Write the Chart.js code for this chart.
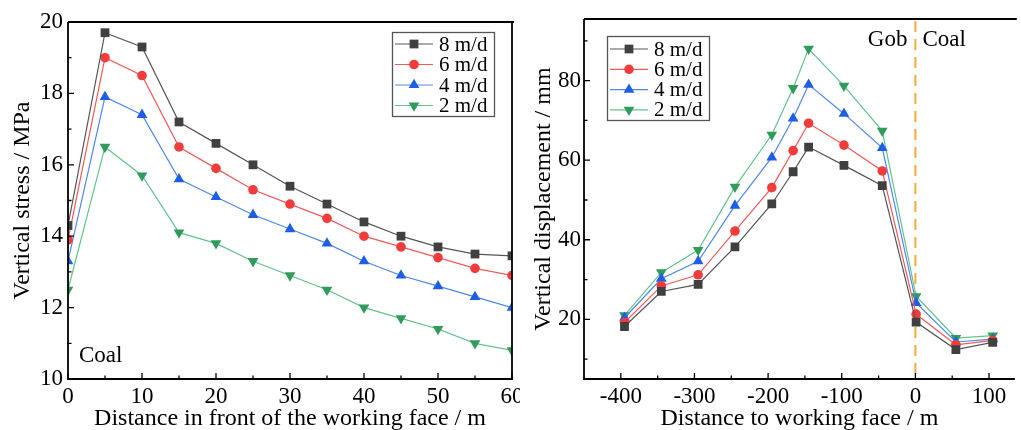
<!DOCTYPE html>
<html>
<head>
<meta charset="utf-8">
<script src="https://cdn.jsdelivr.net/npm/chart.js@4/dist/chart.umd.min.js"></script>
<style>
  body { margin: 0; background: #fff; width: 1021px; height: 430px; overflow: hidden; }
  #left { position: absolute; left: 0; top: 0; }
  #right { position: absolute; left: 520px; top: 0; }
</style>
</head>
<body>
<canvas id="left" width="520" height="430"></canvas>
<canvas id="right" width="501" height="430"></canvas>
<script>
// left chart: vertical stress ahead of the face
const stressX = [0, 5, 10, 15, 20, 25, 30, 35, 40, 45, 50, 55, 60];
const stress8 = [14.3, 19.7, 19.3, 17.2, 16.6, 16.0, 15.4, 14.9, 14.4, 14.0, 13.7, 13.5, 13.45];
const stress6 = [13.9, 19.0, 18.5, 16.5, 15.9, 15.3, 14.9, 14.5, 14.0, 13.7, 13.4, 13.1, 12.9];
const stress4 = [13.3, 17.9, 17.4, 15.6, 15.1, 14.6, 14.2, 13.8, 13.3, 12.9, 12.6, 12.3, 12.0];
const stress2 = [12.5, 16.5, 15.7, 14.1, 13.8, 13.3, 12.9, 12.5, 12.0, 11.7, 11.4, 11.0, 10.8];

// right chart: vertical displacement
const dispX = [-395, -345, -295, -245, -195, -166, -145, -97, -45, 1, 55, 105];
const disp8 = [18.2, 27.0, 28.8, 38.2, 49.0, 57.1, 63.3, 58.7, 53.6, 19.3, 12.4, 14.2];
const disp6 = [19.2, 28.4, 31.2, 42.2, 53.1, 62.4, 69.3, 63.8, 57.3, 21.3, 13.6, 14.7];
const disp4 = [20.4, 30.2, 34.6, 48.6, 60.7, 70.5, 79.0, 71.7, 63.1, 24.1, 14.3, 15.0];
const disp2 = [21.0, 31.8, 37.4, 53.3, 66.4, 78.1, 88.0, 78.7, 67.4, 25.8, 15.3, 15.9];

const seriesLabels = ['8 m/d', '6 m/d', '4 m/d', '2 m/d'];
const stressTicks = [10, 12, 14, 16, 18, 20];
const stressXTicks = [0, 10, 20, 30, 40, 50, 60];
const dispTicks = [20, 40, 60, 80];
const dispXTicks = [-400, -300, -200, -100, 0, 100];

const FONT = "'Liberation Serif', 'Times New Roman', serif";

const styles = [
  { mark: '#404040', line: '#555555', shape: 'rect', r: 6.2, rot: 0 },
  { mark: '#f23c3c', line: '#f25a5a', shape: 'circle', r: 4.8, rot: 0 },
  { mark: '#1e5ee6', line: '#4f86f0', shape: 'triangle', r: 6.2, rot: 0 },
  { mark: '#2f9c5c', line: '#62c48c', shape: 'triangle', r: 6.2, rot: 180 }
];

function makeSets(xs, lists) {
  return lists.map((ys, i) => ({
    label: seriesLabels[i],
    data: xs.map((x, j) => ({ x: x, y: ys[j] })),
    borderColor: styles[i].line,
    borderWidth: 1.2,
    backgroundColor: styles[i].mark,
    pointBackgroundColor: styles[i].mark,
    pointBorderColor: styles[i].mark,
    pointBorderWidth: 0,
    pointStyle: styles[i].shape,
    pointRadius: styles[i].r,
    pointRotation: styles[i].rot,
    tension: 0
  }));
}

function minorOf(vals, min, max) {
  const out = [];
  for (let i = 0; i < vals.length - 1; i++) out.push((vals[i] + vals[i + 1]) / 2);
  if (vals.length > 1) {
    const step = vals[1] - vals[0];
    out.push(vals[0] - step / 2, vals[vals.length - 1] + step / 2);
  }
  return out.filter(v => v > min && v < max);
}

// frame, inward ticks, legend box and notes
const decor = {
  id: 'decor',
  beforeDatasetsDraw(chart, args, o) {
    if (o.dashAt === undefined) return;
    const ctx = chart.ctx, a = chart.chartArea;
    const px = chart.scales.x.getPixelForValue(o.dashAt);
    ctx.save();
    ctx.strokeStyle = '#f9a83a';
    ctx.lineWidth = 2;
    ctx.setLineDash([11, 7]);
    ctx.beginPath();
    ctx.moveTo(px, a.top + 2);
    ctx.lineTo(px, a.bottom);
    ctx.stroke();
    ctx.restore();
  },
  afterDraw(chart, args, o) {
    const ctx = chart.ctx, a = chart.chartArea;
    const xs = chart.scales.x, ys = chart.scales.y;
    ctx.save();
    ctx.strokeStyle = '#000';
    ctx.lineWidth = 1.8;
    ctx.beginPath();
    ctx.moveTo(a.left, a.top);
    ctx.lineTo(a.left, a.bottom);
    ctx.lineTo(a.right, a.bottom);
    if (o.box) {
      ctx.lineTo(a.right, a.top);
    }
    ctx.moveTo(a.left, a.top);
    ctx.lineTo(a.right + 2, a.top);
    ctx.stroke();

    // inward ticks
    ctx.lineWidth = 1.3;
    const xMaj = xs.ticks.map(t => t.value);
    const yMaj = ys.ticks.map(t => t.value);
    ctx.beginPath();
    xMaj.forEach(v => { const p = xs.getPixelForValue(v); ctx.moveTo(p, a.bottom); ctx.lineTo(p, a.bottom - 6); });
    minorOf(xMaj, xs.min, xs.max).forEach(v => { const p = xs.getPixelForValue(v); ctx.moveTo(p, a.bottom); ctx.lineTo(p, a.bottom - 3.5); });
    yMaj.forEach(v => { const p = ys.getPixelForValue(v); ctx.moveTo(a.left, p); ctx.lineTo(a.left + 6, p); });
    minorOf(yMaj, ys.min, ys.max).forEach(v => { const p = ys.getPixelForValue(v); ctx.moveTo(a.left, p); ctx.lineTo(a.left + 3.5, p); });
    ctx.stroke();

    // legend
    const L = o.legend;
    ctx.fillStyle = '#fff';
    ctx.fillRect(L.x, L.y, L.w, L.h);
    ctx.strokeStyle = '#555';
    ctx.lineWidth = 1.3;
    ctx.strokeRect(L.x + 0.5, L.y + 0.5, L.w, L.h);
    ctx.font = '21px ' + FONT;
    ctx.textBaseline = 'middle';
    chart.data.datasets.forEach((ds, i) => {
      const cy = L.y + L.first + i * L.row;
      ctx.strokeStyle = ds.borderColor;
      ctx.lineWidth = 1.2;
      ctx.beginPath();
      ctx.moveTo(L.x + 3, cy);
      ctx.lineTo(L.x + 41, cy);
      ctx.stroke();
      ctx.fillStyle = ds.pointBackgroundColor;
      Chart.helpers.drawPoint(ctx, {
        pointStyle: ds.pointStyle, rotation: ds.pointRotation,
        radius: ds.pointRadius, borderWidth: 0
      }, L.x + 22, cy);
      ctx.fillStyle = '#000';
      ctx.fillText(ds.label, L.x + 47, cy + 1);
    });

    // notes
    ctx.font = '23px ' + FONT;
    ctx.fillStyle = '#000';
    ctx.textBaseline = 'alphabetic';
    (o.notes || []).forEach(n => {
      const px = n.atX !== undefined ? xs.getPixelForValue(n.atX) + n.dx : a.left + n.dx;
      ctx.textAlign = n.align || 'left';
      ctx.fillText(n.text, px, a.top + n.dy);
    });
    ctx.restore();
  }
};

function fixedTicks(list) {
  return function (scale) { scale.ticks = list.map(v => ({ value: v })); };
}

function axis(min, max, ticks, title, size, pad, titlePad) {
  return {
    type: 'linear',
    min: min,
    max: max,
    afterBuildTicks: fixedTicks(ticks),
    afterFit: function (s) {
      if (s.isHorizontal()) {
        s.height = size;
        s.paddingLeft = 0;
        s.paddingRight = 0;
      } else {
        s.width = size;
        s.paddingTop = 0;
        s.paddingBottom = 0;
      }
    },
    grid: { display: false, drawTicks: false },
    border: { display: false },
    ticks: {
      color: '#000',
      padding: pad,
      maxRotation: 0,
      autoSkip: false,
      font: { family: FONT, size: 23 }
    },
    title: {
      display: true,
      text: title,
      color: '#000',
      padding: titlePad,
      font: { family: FONT, size: 24, lineHeight: 1.2 }
    }
  };
}

new Chart(document.getElementById('left'), {
  type: 'line',
  data: { datasets: makeSets(stressX, [stress8, stress6, stress4, stress2]) },
  options: {
    responsive: false,
    animation: false,
    devicePixelRatio: 1,
    layout: { padding: { top: 22, right: 8, left: 0, bottom: 0 } },
    scales: {
      x: axis(0, 60, stressXTicks, 'Distance in front of the working face / m', 51, 4, { top: 0, bottom: -3 }),
      y: axis(10, 20, stressTicks, 'Vertical stress / MPa', 68, 5, { top: 8, bottom: 0 })
    },
    plugins: {
      legend: { display: false },
      tooltip: { enabled: false },
      decor: {
        box: true,
        legend: { x: 392, y: 32, w: 102, h: 84, first: 12, row: 20.5 },
        notes: [{ text: 'Coal', dx: 11, dy: 340 }]
      }
    }
  },
  plugins: [decor]
});

new Chart(document.getElementById('right'), {
  type: 'line',
  data: { datasets: makeSets(dispX, [disp8, disp6, disp4, disp2]) },
  options: {
    responsive: false,
    animation: false,
    devicePixelRatio: 1,
    layout: { padding: { top: 19, right: 1, left: 0, bottom: 0 } },
    scales: {
      x: axis(-450, 135, dispXTicks, 'Distance to working face / m', 51, 4, { top: 0, bottom: -3 }),
      y: axis(5, 95.5, dispTicks, 'Vertical displacement / mm', 64, 3, { top: 9, bottom: 0 })
    },
    plugins: {
      legend: { display: false },
      tooltip: { enabled: false },
      decor: {
        box: false,
        dashAt: 0,
        legend: { x: 87, y: 36, w: 102, h: 84, first: 13, row: 20.3 },
        notes: [
          { text: 'Gob', atX: 0, dx: -8, dy: 27, align: 'right' },
          { text: 'Coal', atX: 0, dx: 7, dy: 27, align: 'left' }
        ]
      }
    }
  },
  plugins: [decor]
});
</script>
</body>
</html>
